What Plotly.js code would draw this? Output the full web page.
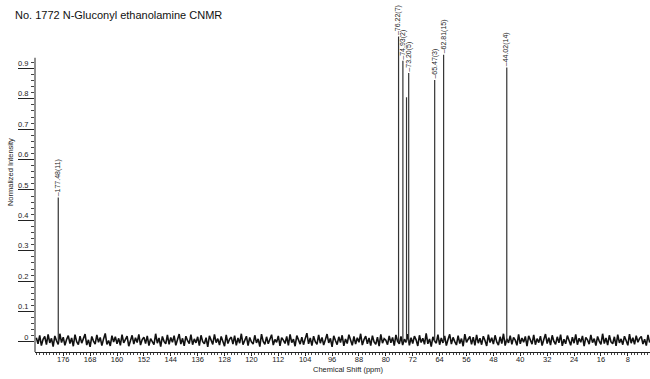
<!DOCTYPE html>
<html>
<head>
<meta charset="utf-8">
<script src="https://cdn.plot.ly/plotly-3.0.1.min.js"></script>
<style>html,body{margin:0;padding:0;background:#fff;}#chart{width:650px;height:379px;}</style>
</head>
<body>
<div id="chart"></div>
<script>
// Peak positions (ppm), normalized heights, and labels
const peakPpm    = [177.48, 76.22, 74.93, 73.85, 73.20, 65.47, 62.81, 44.02];
const peakHeight = [0.475, 1.005, 0.925, 0.805, 0.885, 0.862, 0.945, 0.903];
const peakLabel  = ["177.48(11)", "76.22(7)", "74.93(2)", "", "73.20(5)", "65.47(3)", "62.81(15)", "44.02(14)"];

// Baseline noise, in thousandths, from 184.0 ppm down in 0.5 ppm steps
const noiseStart = 184.0;
const noiseStep = 0.5;
const noiseMilli = [
 14,-6,22,-12,9,18,-9,25,-3,12,-15,20,4,-8,27,-2,16,-11,8,21,
 -5,13,-14,24,1,-9,19,-4,11,26,-10,7,-16,18,3,-7,23,-1,15,-12,
 10,28,-8,5,-13,21,0,17,-6,12,-11,24,-3,9,19,-14,6,22,-7,14,
 -2,25,-10,8,16,-5,20,-12,11,3,-9,27,-4,13,-15,18,2,-6,23,-8,
 15,-1,21,-11,7,26,-7,12,-13,19,4,-5,24,-9,10,-3,17,-12,22,1,
 -6,14,-16,20,6,-8,25,-2,11,-10,18,3,-14,23,-5,9,16,-7,21,-11,
 13,-4,27,-9,5,19,-12,15,0,-7,22,-3,10,-15,26,2,-8,17,-6,12,
 24,-10,8,-1,20,-13,14,6,-5,18,-11,25,-2,9,-14,21,4,-7,16,-9,
 11,29,-6,13,-12,19,1,-8,23,-4,15,-10,7,26,-3,12,-16,20,5,-9,
 17,-2,22,-13,10,-5,24,3,-11,18,-7,14,-1,27,-10,8,19,-6,13,-12,
 21,0,-8,16,-14,25,-4,11,6,-9,20,-3,15,-12,23,2,-6,18,-10,9,
 -1,26,-11,14,-5,19,7,-13,22,-2,12,-8,28,-6,10,-15,17,3,-4,24,
 -9,13,-3,20,-12,8,25,-7,15,1,-10,21,-5,11,-14,26,-1,9,18,-8,
 16,-11,23,-4,12,-9,19,5,-13,24,-2,14,-7,22,0,-10,17,-5,27,-12,
 10,-3,21,-8,15,6,-11,25,-6,13,-1,18,-14,20,4,-7,23,-9,11,-2,
 19,-12,8,26,-5,14,-10,22,2,-8,17,-3,24,-13,9,-6,21,1,-11,16,
 -4,25,-9,12,-1,20,-14,15,7,-7,23,-2,11,-12,18,3,-8,27,-5,13,
 -10,22,0,-6,17,-13,24,-3,10,-9,19,5,-11,26,-4,14,-8,21,-1,12,
 18,-7,9,-12,23,-2
];

const xTickVals = [176,168,160,152,144,136,128,120,112,104,96,88,80,72,64,56,48,40,32,24,16,8];
const yTickVals = [0,0.1,0.2,0.3,0.4,0.5,0.6,0.7,0.8,0.9];
const yTickText = ["0","0.1","0.2","0.3","0.4","0.5","0.6","0.7","0.8","0.9"];

const noiseX = noiseMilli.map((v, i) => noiseStart - noiseStep * i);
const noiseY = noiseMilli.map(v => v / 1000);

const px = [], py = [];
peakPpm.forEach((p, i) => { px.push(p, p, null); py.push(0, peakHeight[i], null); });

const yMinor = [];
for (let k = 0; k <= 46; k++) { if (k % 5 !== 0) yMinor.push(+(k * 0.02).toFixed(2)); }

const FONT = 'Liberation Sans, Arial, sans-serif';
const annotations = [];
peakPpm.forEach((p, i) => {
  if (!peakLabel[i]) return;
  annotations.push({
    x: p, y: peakHeight[i], xref: 'x', yref: 'y',
    text: '\u2013' + peakLabel[i], showarrow: false, textangle: -90,
    xanchor: 'center', yanchor: 'bottom', borderpad: 0,
    font: {family: FONT, size: 7, color: '#222'}
  });
});
annotations.push({
  xref: 'paper', yref: 'paper', x: -0.0358, y: 0.957, xanchor: 'left', yanchor: 'middle',
  text: 'No. 1772 N-Gluconyl ethanolamine CNMR', showarrow: false,
  font: {family: FONT, size: 11, color: '#111'}
});
annotations.push({
  xref: 'paper', yref: 'paper', x: -0.0407, y: 0.511, xanchor: 'center', yanchor: 'middle',
  text: 'Normalized Intensity', showarrow: false, textangle: -90,
  font: {family: FONT, size: 7.5, color: '#222'}
});
annotations.push({
  xref: 'paper', yref: 'paper', x: 0.509, y: -0.05, xanchor: 'center', yanchor: 'middle',
  text: 'Chemical Shift (ppm)', showarrow: false,
  font: {family: FONT, size: 7.5, color: '#222'}
});

const data = [
  {x: noiseX, y: noiseY, type: 'scatter', mode: 'lines', line: {color: '#111', width: 1.6}, hoverinfo: 'skip'},
  {x: px, y: py, type: 'scatter', mode: 'lines', line: {color: '#333', width: 1.2}, connectgaps: false, hoverinfo: 'skip'}
];

const layout = {
  width: 650, height: 379,
  margin: {l: 35, r: 0, t: 0, b: 27},
  paper_bgcolor: '#fff', plot_bgcolor: '#fff',
  showlegend: false,
  xaxis: {
    range: [184.4, 1.4], showgrid: false, zeroline: false,
    showline: true, linecolor: '#222', linewidth: 1,
    tickmode: 'array', tickvals: xTickVals, ticktext: xTickVals.map(String),
    ticks: 'outside', ticklen: 3, tickcolor: '#222', tickwidth: 1,
    ticklabelstandoff: -3,
    tickfont: {family: FONT, size: 7.5, color: '#222'},
    minor: {dtick: 1, tick0: 0, ticks: 'outside', ticklen: 2, tickcolor: '#444', showgrid: false}
  },
  yaxis: {
    range: [-0.033, 1.125], showgrid: false, zeroline: false, showline: false,
    tickmode: 'array', tickvals: yTickVals, ticktext: yTickText,
    ticks: 'outside', ticklen: 16, tickcolor: '#222', tickwidth: 1,
    ticklabelstandoff: -12, ticklabelshift: -5,
    tickfont: {family: FONT, size: 7.5, color: '#222'},
    minor: {tickmode: 'array', tickvals: yMinor, ticks: 'outside', ticklen: 3, tickcolor: '#444', showgrid: false}
  },
  shapes: [
    {type: 'line', xref: 'paper', yref: 'y', x0: 0, x1: 0, y0: -0.033, y1: 0.935, line: {color: '#222', width: 1}}
  ],
  annotations: annotations
};

Plotly.newPlot('chart', data, layout, {staticPlot: true, displayModeBar: false});
</script>
</body>
</html>
